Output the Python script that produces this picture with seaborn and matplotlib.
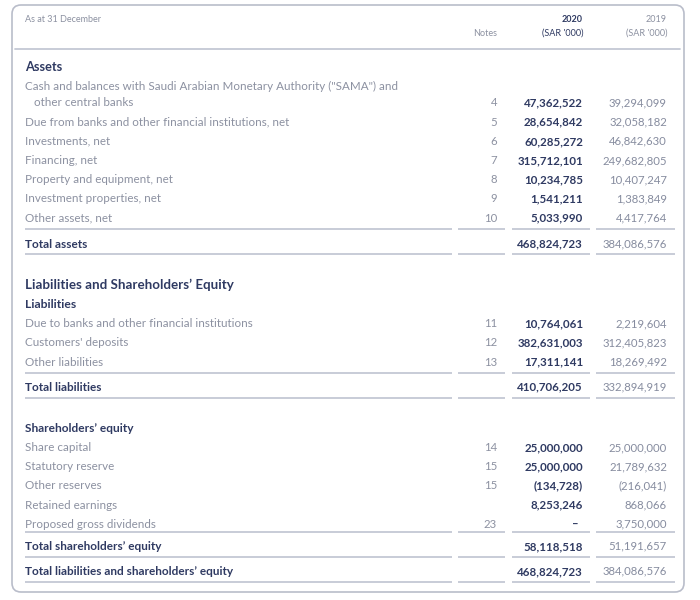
import matplotlib
matplotlib.use("Agg")
import matplotlib.pyplot as plt
from matplotlib.patches import FancyBboxPatch
import seaborn as sns

# Statement of financial position, SAR '000
asset_labels = ["Cash and balances with Saudi Arabian Monetary Authority (\"SAMA\") and\n   other central banks",
                "Due from banks and other financial institutions, net",
                "Investments, net",
                "Financing, net",
                "Property and equipment, net",
                "Investment properties, net",
                "Other assets, net"]
asset_notes = ["4", "5", "6", "7", "8", "9", "10"]
asset_2020 = [47362522, 28654842, 60285272, 315712101, 10234785, 1541211, 5033990]
asset_2019 = [39294099, 32058182, 46842630, 249682805, 10407247, 1383849, 4417764]
total_assets = [468824723, 384086576]

liab_labels = ["Due to banks and other financial institutions",
               "Customers' deposits",
               "Other liabilities"]
liab_notes = ["11", "12", "13"]
liab_2020 = [10764061, 382631003, 17311141]
liab_2019 = [2219604, 312405823, 18269492]
total_liab = [410706205, 332894919]

eq_labels = ["Share capital", "Statutory reserve", "Other reserves",
             "Retained earnings", "Proposed gross dividends"]
eq_notes = ["14", "15", "15", "", "23"]
eq_2020 = [25000000, 25000000, -134728, 8253246, None]
eq_2019 = [25000000, 21789632, -216041, 868066, 3750000]
total_eq = [58118518, 51191657]
total_liab_eq = [468824723, 384086576]

sns.set_theme(style="white")
plt.rcParams['font.family'] = ['Lato', 'DejaVu Sans']

navy = "#2f3a62"
label_grey = "#8c91a1"
grey_19 = "#868c9f"
rule = "#c4c8d4"

X_LABEL, X_NOTE, X_20, X_19 = 25, 497, 583, 667
SEGS = [(25, 452), (458, 505), (512, 590), (596, 675)]
STEP = 19.2
FS = 8.4      # body labels
FS_NUM = 8.3  # 2020 figures
FS_19 = 8.2   # 2019 figures


def fmt(v):
    if v is None:
        return "\u2013"
    if v < 0:
        return "({:,})".format(-v)
    return "{:,}".format(v)


fig = plt.figure(figsize=(7, 6), dpi=100)
ax = fig.add_axes([0, 0, 1, 1])
ax.set_xlim(0, 700)
ax.set_ylim(600, 0)
ax.axis('off')

ax.add_patch(FancyBboxPatch((12, 5), 672, 587,
                            boxstyle="round,pad=0,rounding_size=9",
                            facecolor="white", edgecolor="#b9bdca", lw=1.2))

# header
ax.text(X_LABEL, 20, "As at 31 December", fontsize=6.5, color=label_grey, va='center')
ax.text(X_NOTE, 33, "Notes", fontsize=6.5, color=label_grey, va='center', ha='right')
ax.text(X_20, 20, "2020", fontsize=6.5, color=navy, va='center', ha='right', fontweight='bold')
ax.text(X_20, 33, "(SAR '000)", fontsize=6.5, color=navy, va='center', ha='right')
ax.text(X_19, 20, "2019", fontsize=6.5, color=label_grey, va='center', ha='right')
ax.text(X_19, 33, "(SAR '000)", fontsize=6.5, color=label_grey, va='center', ha='right')
ax.plot([15, 680], [49, 49], color=rule, lw=1.3)


def rules(y):
    for a, b in SEGS:
        ax.plot([a, b], [y, y], color=rule, lw=1.3, solid_capstyle='butt')


def heading(y, text, size=9.6):
    ax.text(X_LABEL, y, text, fontsize=size, color=navy, fontweight='bold', va='center')


def rows(y, labels, notes, v20, v19):
    for lab, n, a, b in zip(labels, notes, v20, v19):
        if "\n" in lab:
            first, second = lab.split("\n")
            ax.text(X_LABEL, y, first, fontsize=FS, color=label_grey, va='center')
            y += 17
            ax.text(X_LABEL, y, second, fontsize=FS, color=label_grey, va='center')
        else:
            ax.text(X_LABEL, y, lab, fontsize=FS, color=label_grey, va='center')
        ax.text(X_NOTE, y, n, fontsize=FS_19, color=label_grey, va='center', ha='right')
        ax.text(X_20 - (4 if a is None else 0), y, fmt(a), fontsize=FS_NUM, color=navy,
                fontweight='bold', va='center', ha='right')
        ax.text(X_19, y, fmt(b), fontsize=FS_19, color=grey_19, va='center', ha='right')
        y += STEP
    return y - STEP


def total(y, text, vals):
    ax.text(X_LABEL, y, text, fontsize=8.5, color=navy, fontweight='bold', va='center')
    ax.text(X_20, y, fmt(vals[0]), fontsize=FS_NUM, color=navy, fontweight='bold',
            va='center', ha='right')
    ax.text(X_19, y, fmt(vals[1]), fontsize=FS_19, color=grey_19, va='center', ha='right')


# assets
heading(67, "Assets", size=9.2)
y = rows(86, asset_labels, asset_notes, asset_2020, asset_2019)
rules(y + 11)
total(y + 26, "Total assets", total_assets)
rules(y + 36)

# liabilities
y = y + 67
heading(y, "Liabilities and Shareholders\u2019 Equity")
heading(y + 19, "Liabilities", size=8.7)
y = rows(y + 38.5, liab_labels, liab_notes, liab_2020, liab_2019)
rules(y + 11)
total(y + 25, "Total liabilities", total_liab)
rules(y + 36)

# equity
y = y + 66
heading(y, "Shareholders\u2019 equity", size=8.6)
y = rows(y + 19.5, eq_labels, eq_notes, eq_2020, eq_2019)
rules(y + 8)
total(y + 22, "Total shareholders\u2019 equity", total_eq)
rules(y + 33)
total(y + 47, "Total liabilities and shareholders\u2019 equity", total_liab_eq)
rules(y + 58)

fig.savefig("out.png", dpi=100, facecolor="white")
